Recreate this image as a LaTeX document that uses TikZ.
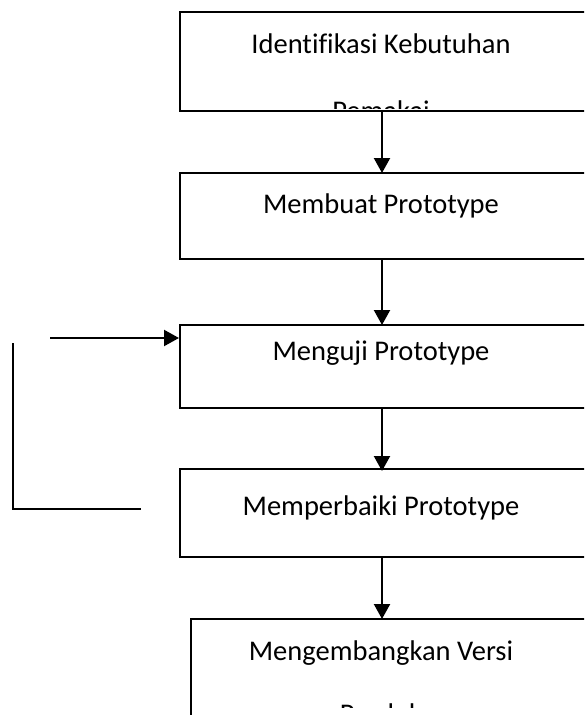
\documentclass[tikz,border=0pt]{standalone}
\usepackage{fontspec}
\setmainfont{Carlito}[Ligatures=NoCommon]
\usetikzlibrary{arrows.meta}
\begin{document}
\begin{tikzpicture}[x=1pt,y=-1pt,
  box/.style={draw=black,line width=2.2pt,anchor=north west,inner sep=0pt,minimum width=430pt},
  lbl/.style={anchor=base,inner sep=0pt,font=\fontsize{28.5}{34}\selectfont},
  arr/.style={line width=2.2pt,-{Triangle[length=15pt,width=16pt]}},
  ln/.style={line width=2.2pt}]
\useasboundingbox (0,0) rectangle (584,715);
\clip (0,0) rectangle (584,715);
\fill[white] (0,0) rectangle (584,715);
% boxes
\node[box,minimum height=99pt] (b1) at (179,11) {};
\node[box,minimum height=86pt] (b2) at (179,172) {};
\node[box,minimum height=83pt] (b3) at (179,324) {};
\node[box,minimum height=88pt] (b4) at (179,468) {};
\node[box,minimum height=120pt,minimum width=420pt] (b5) at (190,618) {};
% labels
\begin{scope}
\clip (180,12) rectangle (584,108);
\node[lbl] (t1) at (381,53) {Identifikasi Kebutuhan};
\node[lbl] (t1b) at (381,120) {Pemakai};
\end{scope}
\node[lbl] (t2) at (381,213) {Membuat Prototype};
\node[lbl] (t3) at (381,360) {Menguji Prototype};
\node[lbl] (t4) at (381,515) {Memperbaiki Prototype};
\begin{scope}
\clip (191,619) rectangle (584,707);
\node[lbl] (t5) at (381,660) {Mengembangkan Versi};
\node[lbl] (t5b) at (381,723) {Produk};
\end{scope}
% vertical arrows
\coordinate (ax) at (382,0);
\draw[arr] (b1.south -| ax) -- ([yshift=-1pt]b2.north -| ax);
\draw[arr] (b2.south -| ax) -- ([yshift=-1pt]b3.north -| ax);
\draw[arr] ([yshift=2pt]b3.south -| ax) -- ([yshift=-3pt]b4.north -| ax);
\draw[arr] (b4.south -| ax) -- ([yshift=-1pt]b5.north -| ax);
% feedback
\coordinate (fa) at (50,338);
\coordinate (fv1) at (13,343);
\coordinate (fc) at (13,509);
\coordinate (fh) at (141,509);
\draw[arr] (fa) -- (fa -| b3.west);
\draw[ln] (fv1) -- (fc) -- (fh);
\end{tikzpicture}
\end{document}
